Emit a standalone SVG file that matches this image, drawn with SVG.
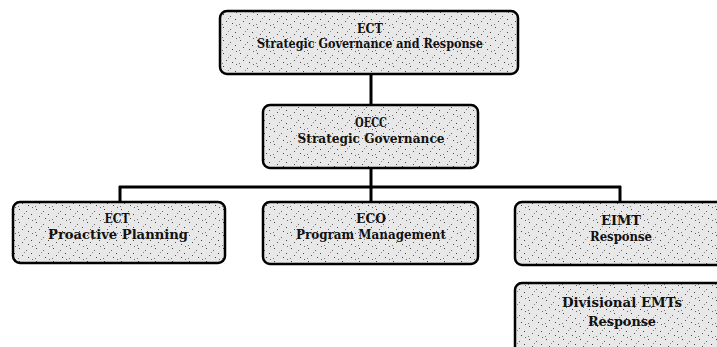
<svg xmlns="http://www.w3.org/2000/svg" width="717" height="347" viewBox="0 0 717 347">
  <defs>
    <pattern id="stipple" width="17" height="13" patternUnits="userSpaceOnUse">
      <rect width="17" height="13" fill="#e8e8e8"/>
      <rect x="2" y="1" width="1" height="1" fill="#444"/>
      <rect x="9" y="3" width="1" height="1" fill="#666"/>
      <rect x="14" y="6" width="1" height="1" fill="#444"/>
      <rect x="5" y="8" width="1" height="1" fill="#555"/>
      <rect x="11" y="10" width="1" height="1" fill="#444"/>
      <rect x="1" y="11" width="1" height="1" fill="#777"/>
      <rect x="7" y="5" width="1" height="1" fill="#888"/>
      <rect x="15" y="12" width="1" height="1" fill="#666"/>
    </pattern>
    <style>
      .box { fill: url(#stipple); stroke: #000; stroke-width: 2.5; }
      .conn { stroke: #000; stroke-width: 3; fill: none; }
      .lbl { font-family: "DejaVu Serif", "Liberation Serif", serif; font-size: 13px; font-weight: bold; fill: #111; text-anchor: middle; }
    </style>
  </defs>

  <g id="connectors">
    <line class="conn" x1="371" y1="74" x2="371" y2="105"/>
    <line class="conn" x1="371" y1="168" x2="371" y2="202"/>
    <line class="conn" x1="119" y1="187" x2="621" y2="187"/>
    <line class="conn" x1="120" y1="186" x2="120" y2="202"/>
    <line class="conn" x1="620" y1="186" x2="620" y2="202"/>
  </g>

  <g id="ect-top">
    <rect class="box" x="220" y="11" width="298" height="63" rx="7"/>
    <text class="lbl" x="370" y="33" textLength="26" lengthAdjust="spacingAndGlyphs">ECT</text>
    <text class="lbl" x="370" y="48" textLength="226" lengthAdjust="spacingAndGlyphs">Strategic Governance and Response</text>
  </g>

  <g id="oecc">
    <rect class="box" x="263" y="105" width="215" height="63" rx="7"/>
    <text class="lbl" x="371" y="127" textLength="32" lengthAdjust="spacingAndGlyphs">OECC</text>
    <text class="lbl" x="371" y="143" textLength="147" lengthAdjust="spacingAndGlyphs">Strategic Governance</text>
  </g>

  <g id="ect-planning">
    <rect class="box" x="13" y="202" width="212" height="61" rx="7"/>
    <text class="lbl" x="117" y="223" textLength="25" lengthAdjust="spacingAndGlyphs">ECT</text>
    <text class="lbl" x="118" y="239" textLength="140" lengthAdjust="spacingAndGlyphs">Proactive Planning</text>
  </g>

  <g id="eco">
    <rect class="box" x="263" y="202" width="215" height="62" rx="7"/>
    <text class="lbl" x="371" y="223" textLength="30" lengthAdjust="spacingAndGlyphs">ECO</text>
    <text class="lbl" x="371" y="239" textLength="150" lengthAdjust="spacingAndGlyphs">Program Management</text>
  </g>

  <g id="eimt">
    <rect class="box" x="515" y="202" width="212" height="63" rx="7"/>
    <text class="lbl" x="621" y="225" textLength="40" lengthAdjust="spacingAndGlyphs">EIMT</text>
    <text class="lbl" x="621" y="241" textLength="62" lengthAdjust="spacingAndGlyphs">Response</text>
  </g>

  <g id="divisional-emts">
    <rect class="box" x="515" y="283" width="212" height="80" rx="7"/>
    <text class="lbl" x="622" y="307" textLength="120" lengthAdjust="spacingAndGlyphs">Divisional EMTs</text>
    <text class="lbl" x="622" y="326" textLength="68" lengthAdjust="spacingAndGlyphs">Response</text>
  </g>
</svg>
